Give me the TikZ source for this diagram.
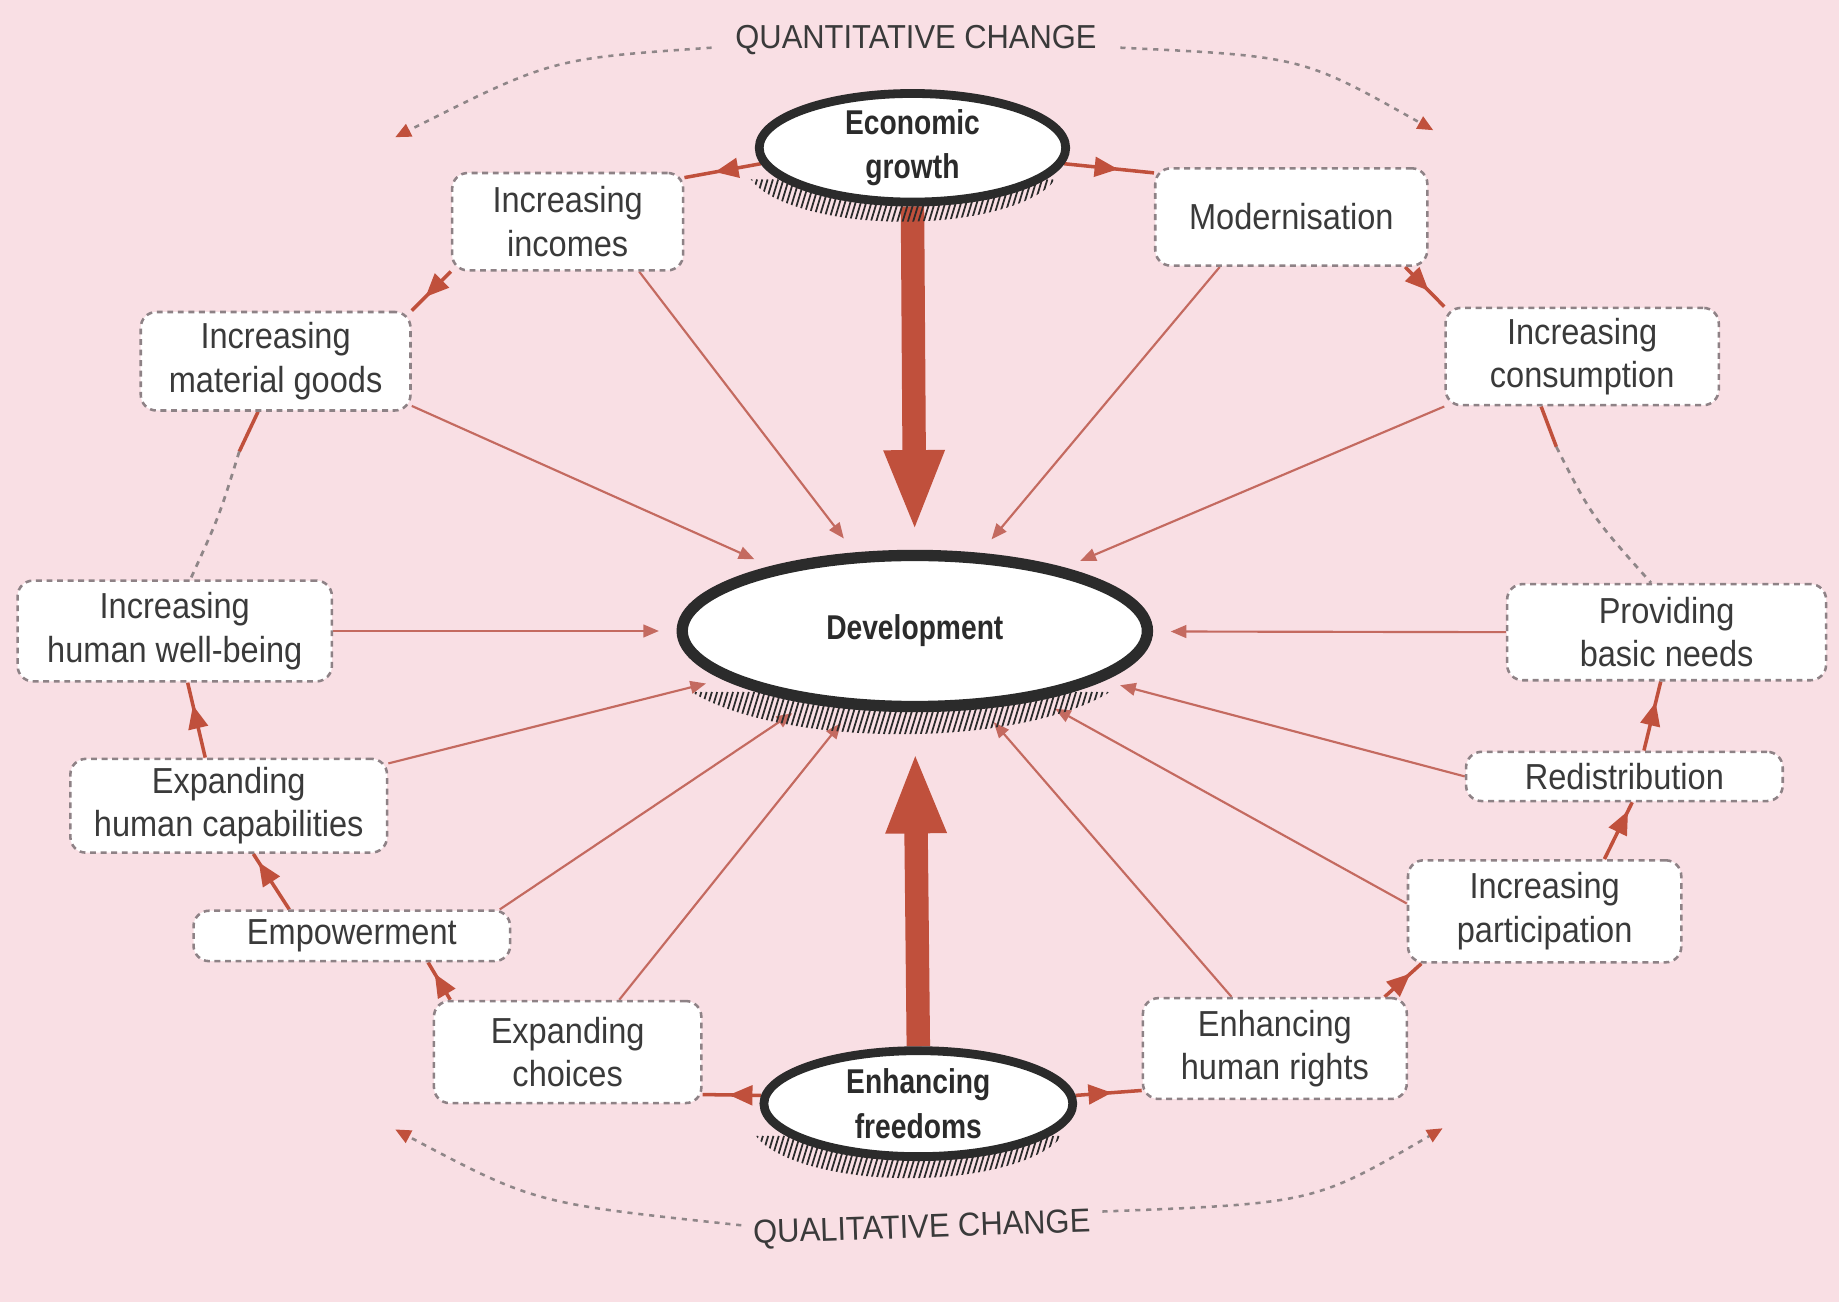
\documentclass[tikz,border=0pt]{standalone}
\usepackage{fontspec}
\setmainfont{Liberation Sans}
\newfontfamily\boxfont[FakeStretch=0.9]{Liberation Sans}
\newfontfamily\ellfont[FakeStretch=0.82]{Liberation Sans Bold}
\newfontfamily\chgfont[FakeStretch=0.93]{Liberation Sans}
\usetikzlibrary{arrows.meta,shapes.geometric,decorations.markings}
\pgfdeclarelayer{background}
\pgfsetlayers{background,main}
\definecolor{bgpink}{HTML}{F9DFE4}
\definecolor{redarr}{HTML}{C0503C}
\definecolor{thinred}{HTML}{C46A60}
\definecolor{boxdash}{HTML}{8E8286}
\definecolor{txt}{HTML}{3A3A3A}
\definecolor{ellline}{HTML}{2B2B2B}
\definecolor{chgdash}{HTML}{8F8688}
\tikzset{
 dbox/.style={draw=boxdash, line width=1.3pt, dash pattern=on 3pt off 2.4pt, rounded corners=8pt, fill=white, text=txt, align=center, inner sep=0pt, font=\boxfont\fontsize{18.5pt}{22.2pt}\selectfont},
 bigell/.style={ellipse, draw=ellline, fill=white, text=ellline, align=center, inner sep=0pt, font=\ellfont\fontsize{17.6pt}{22.8pt}\selectfont},
 radial/.style={draw=thinred, line width=1.1pt, -{Triangle[length=8pt,width=6.5pt]}, shorten >=9pt},
 ringarr/.style={color=redarr, line width=1.8pt, postaction={decorate}, decoration={markings, mark=at position #1 with {\arrow{Triangle[length=12pt,width=10pt]}}}},
 ringarr/.default=0.6,
 ringplain/.style={draw=redarr, line width=1.8pt},
 ringdash/.style={draw=chgdash, line width=1.4pt, dash pattern=on 3pt off 3pt},
 chg/.style={draw=chgdash, line width=1.3pt, dash pattern=on 2.6pt off 3pt, -{Triangle[length=8pt,width=7pt,color=redarr]}},
 bigarr/.style={draw=redarr, line width=12pt, -{Triangle[length=42pt,width=28pt]}},
 chglabel/.style={text=txt, font=\chgfont\fontsize{17pt}{20pt}\selectfont, inner sep=0pt},
 hatchline/.style={draw=ellline, line width=0.9pt},
}
\newcommand\ellhatch[6]{%
 \begin{scope}
  \clip (#1-#5,#2+#6) ellipse (#3 and #4);
  \foreach \k in {0,4.5,...,480} \draw[hatchline] (#1-250+\k,#2+#4+#6+10) -- ++(14,-46);
 \end{scope}}
\begin{document}
\begin{tikzpicture}[x=0.6pt,y=-0.6pt]
\useasboundingbox (0,0) rectangle (1568,1110);
% main ellipses
\node[bigell, line width=4.5pt, minimum width=156.8pt, minimum height=53.6pt] (econ) at (778,126) {Economic\\growth};
\node[bigell, line width=5.8pt, minimum width=238pt, minimum height=77.3pt] (dev) at (780,538) {Development};
\node[bigell, line width=4.5pt, minimum width=158pt, minimum height=54.2pt] (free) at (783,941) {Enhancing\\freedoms};
% boxes
\node[dbox, minimum width=118.2pt, minimum height=49.8pt] (incomes) at (484,189) {Increasing\\incomes};
\node[dbox, minimum width=139.2pt, minimum height=49.8pt] (modern) at (1101,185) {Modernisation};
\node[dbox, minimum width=138pt, minimum height=50.4pt] (goods) at (235,308) {Increasing\\material goods};
\node[dbox, minimum width=139.8pt, minimum height=49.8pt] (consump) at (1349,304) {Increasing\\consumption};
\node[dbox, minimum width=160.8pt, minimum height=51.6pt] (wellbeing) at (149,538) {Increasing\\human well-being};
\node[dbox, minimum width=163.2pt, minimum height=49.2pt] (basic) at (1421,539) {Providing\\basic needs};
\node[dbox, minimum width=162pt, minimum height=48pt] (capab) at (195,687) {Expanding\\human capabilities};
\node[dbox, minimum width=162pt, minimum height=25.2pt] (redist) at (1385,662) {Redistribution};
\node[dbox, minimum width=162pt, minimum height=25.8pt] (empower) at (300,798) {Empowerment};
\node[dbox, minimum width=139.8pt, minimum height=52.2pt] (particip) at (1317,777) {Increasing\\participation};
\node[dbox, minimum width=136.8pt, minimum height=52.2pt] (choices) at (484,897) {Expanding\\choices};
\node[dbox, minimum width=135pt, minimum height=51.6pt] (rights) at (1087,894) {Enhancing\\human rights};
% labels
\node[chglabel] (qn) at (781,34) {QUANTITATIVE CHANGE};
\node[chglabel, rotate=2] (ql) at (786,1048) {QUALITATIVE CHANGE};
\coordinate (gw) at (204,385);
\coordinate (cb) at (1327,381);
\coordinate (qnL) at (337,117);
\coordinate (qnR) at (1222,111);
\coordinate (qlL) at (337,963);
\coordinate (qlR) at (1230,962);
\begin{pgfonlayer}{background}
\fill[bgpink] (0,0) rectangle (1568,1110);
% change arcs
\draw[chg] ([xshift=-12pt,yshift=-4pt]qn.west) .. controls (470,50) .. (qnL);
\draw[chg] ([xshift=12pt,yshift=-4pt]qn.east) .. controls (1110,48) .. (qnR);
\draw[chg] ([xshift=-6pt,yshift=5pt]ql.west) .. controls (456,1026) .. (qlL);
\draw[chg] ([xshift=6pt,yshift=6pt]ql.east) .. controls (1120,1026) .. (qlR);
% radial connectors
\draw[radial] ([xshift=36.6pt]incomes.south) -- (dev);
\draw[radial] ([xshift=-36.6pt]modern.south) -- (dev);
\draw[radial] ([yshift=3pt]goods.south east) -- (dev);
\draw[radial] (consump.south west) -- (dev);
\draw[radial] (wellbeing.east) -- (dev);
\draw[radial] (basic.west) -- (dev);
\draw[radial] ([yshift=-3pt]capab.north east) -- (dev);
\draw[radial] (redist.west) -- (dev);
\draw[radial] ([xshift=-6pt]empower.north east) -- (dev);
\draw[radial] ([yshift=4pt]particip.west) -- (dev);
\draw[radial] ([xshift=26.4pt]choices.north) -- (dev);
\draw[radial] ([xshift=-22.2pt]rights.north) -- (dev);
% ring connectors
\draw[ringarr=0.6] (econ.186) -- ([yshift=-3pt]incomes.north east);
\draw[ringarr=0.6] (econ.-6) -- ([yshift=-3pt]modern.north west);
\draw[ringarr=0.65] (incomes.south west) -- (goods.north east);
\draw[ringarr=0.6] ([xshift=-12pt]modern.south east) -- (consump.north west);
\draw[ringplain] ([xshift=-9pt]goods.south) -- (gw);
\draw[ringdash] (gw) .. controls (187,440) .. ([xshift=8pt]wellbeing.north);
\draw[ringplain] ([xshift=-21pt]consump.south) -- (cb);
\draw[ringdash] (cb) .. controls (1357,440) .. ([xshift=-8pt]basic.north);
\draw[ringarr=0.7] ([xshift=-12pt]capab.north) -- ([xshift=6.6pt]wellbeing.south);
\draw[ringarr=0.7] ([xshift=10pt]redist.north) -- ([xshift=-3pt]basic.south);
\draw[ringarr=0.85] ([xshift=-32pt]empower.north) -- ([xshift=12.6pt]capab.south);
\draw[ringarr=0.7] ([xshift=9pt]choices.north west) -- ([xshift=39pt]empower.south);
\draw[ringarr=0.55] (free.177) -- ([yshift=5pt]choices.south east);
\draw[ringarr=0.55] (free.3) -- ([yshift=5pt]rights.south west);
\draw[ringarr=0.7] ([xshift=-12pt]rights.north east) -- ([xshift=7.5pt]particip.south west);
\draw[ringarr=0.85] ([xshift=30.6pt]particip.north) -- ([xshift=4pt]redist.south);
% big arrows
\draw[bigarr, shorten >=9pt] (econ.south) -- (dev.north);
\draw[bigarr, shorten >=20pt] (free.north) -- (dev.south);
% hatching shadows
\ellhatch{778}{126}{134}{48}{8}{15}
\ellhatch{780}{538}{203}{69}{12}{19}
\ellhatch{783}{941}{135}{48.5}{8}{15}
\end{pgfonlayer}
\end{tikzpicture}
\end{document}
